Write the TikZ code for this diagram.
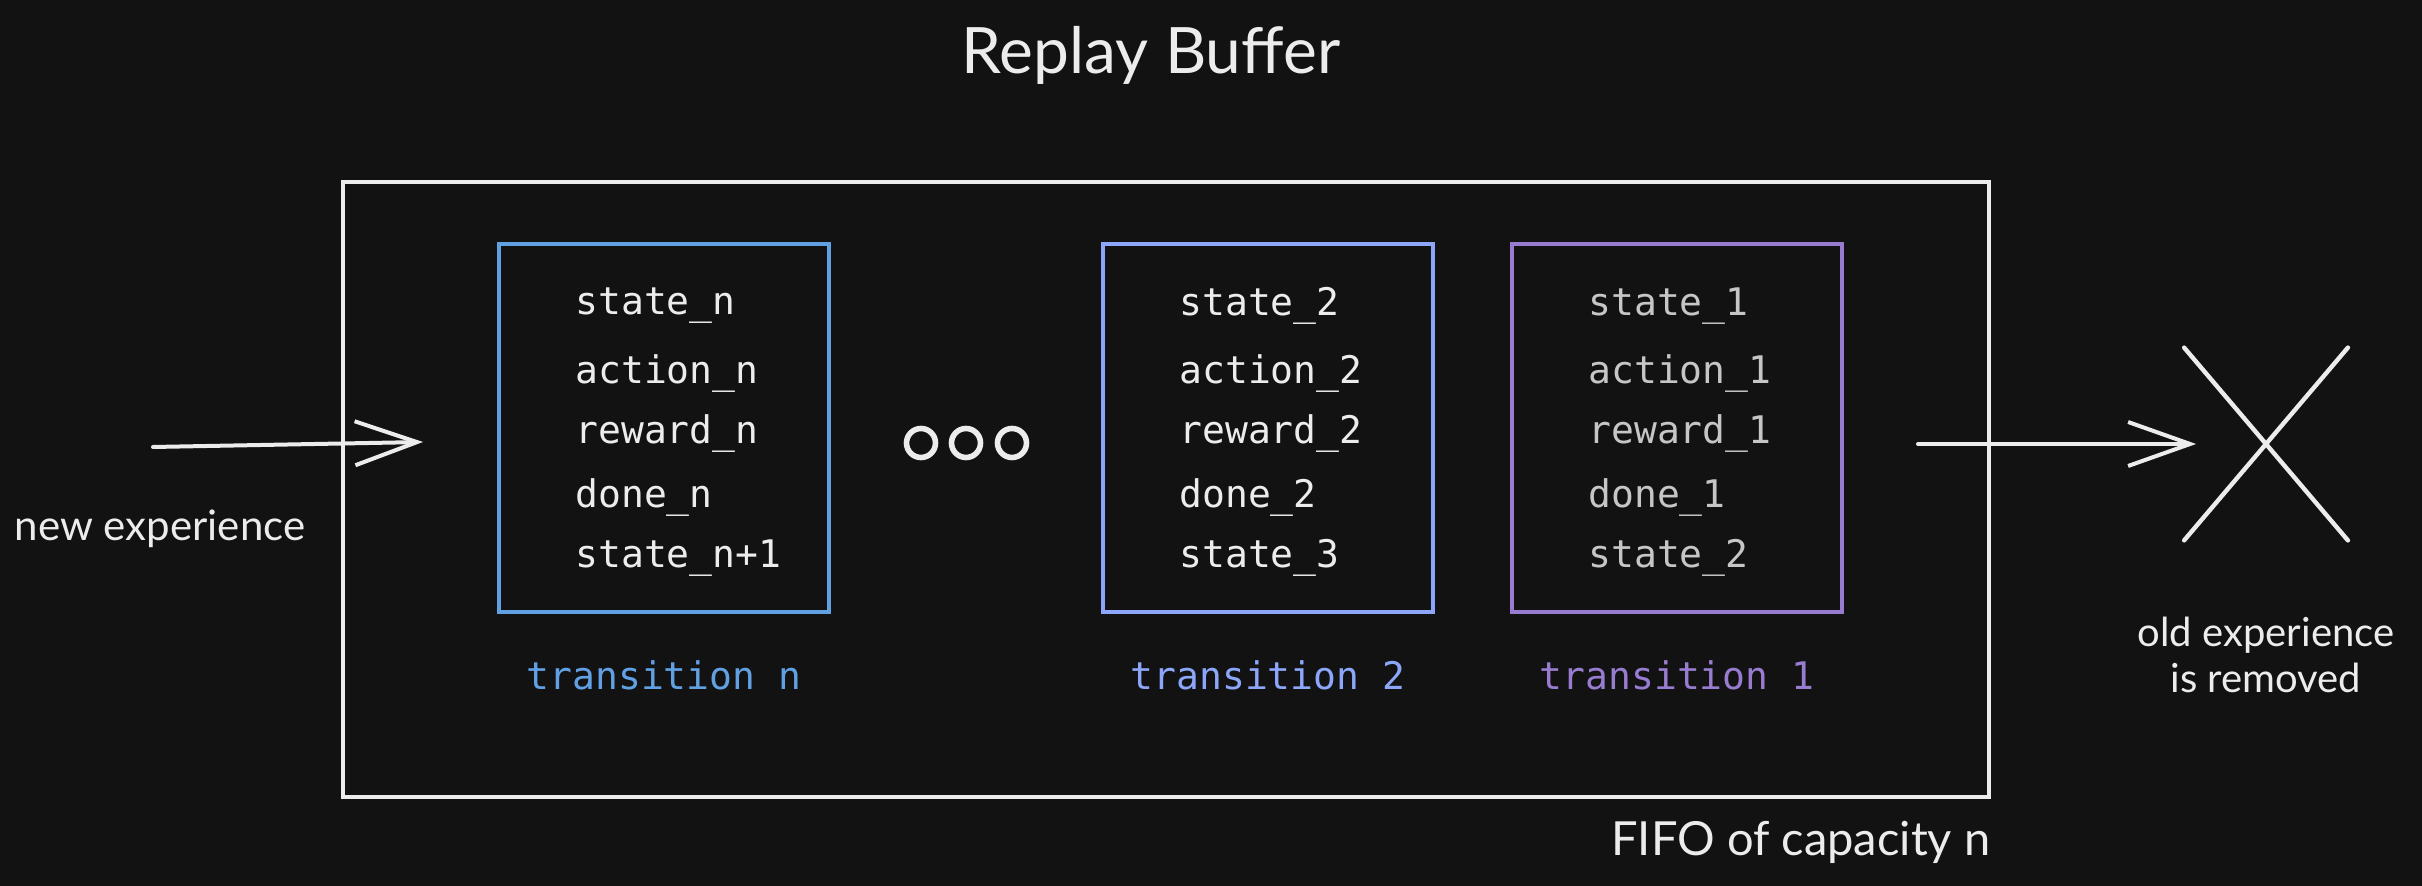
\documentclass[tikz,border=0pt]{standalone}
\usepackage{fontspec}
\newfontfamily\codefont{DejaVu Sans Mono}
\newfontfamily\handfont{Lato}
\usepackage{tikz}
\usetikzlibrary{positioning, arrows.meta}

\definecolor{bg}{HTML}{121212}
\definecolor{ink}{HTML}{ECECEC}
\definecolor{dim}{HTML}{C6C6C6}
\definecolor{trblue}{RGB}{98,160,228}
\definecolor{trperi}{RGB}{140,166,250}
\definecolor{trpurp}{RGB}{152,124,208}

\begin{document}
\begin{tikzpicture}[x=0.5pt, y=-0.5pt,
    slot/.style={draw=#1, line width=2pt, minimum width=165pt, minimum height=184pt, inner sep=0pt},
    field/.style={text=#1, anchor=west, inner sep=0pt, font=\codefont\fontsize{19}{19}\selectfont},
    tag/.style={text=#1, inner sep=0pt, font=\codefont\fontsize{19}{19}\selectfont},
    hand/.style={text=ink, inner sep=0pt, align=center, font=\handfont\fontsize{#1}{23}\selectfont},
    flow/.style={draw=ink, line width=2pt, line cap=round, -{Straight Barb[length=31pt, width=22pt]}},
  ]
    \path[use as bounding box, fill=bg] (0,0) rectangle (2422,886);

    \node[hand=32] (title) at (1151,55) {Replay Buffer};
    \node[draw=ink, line width=1.6pt, minimum width=823pt, minimum height=307.5pt] (buffer) at (1166,489.5) {};
    \node[hand=23.5, below left=11pt and 0pt of buffer.south east] (fifo) {FIFO of capacity n};

    \node[slot=trblue] (trn) at (664,428) {};
    \node[slot=trperi] (tr2) at (1268,428) {};
    \node[slot=trpurp] (tr1) at (1677,428) {};

    \foreach \tr/\k/\kk/\col in {trn/n/n+1/ink, tr2/2/3/ink, tr1/1/2/dim}
      \foreach \fld/\dy [count=\i] in {state\_\k/64, action\_\k/132, reward\_\k/192, done\_\k/256, state\_\kk/316}
        \node[field=\col] (\tr-\i) at ([shift={(78,\dy)}]\tr.north west) {\fld};

    \node[tag=trblue, below=23pt of trn] (lbln) {transition n};
    \node[tag=trperi, below=23pt of tr2] (lbl2) {transition 2};
    \node[tag=trpurp, below=23pt of tr1] (lbl1) {transition 1};

    % skipped transitions
    \foreach \x [count=\i] in {921, 966, 1012}
      \node[circle, draw=ink, line width=2.8pt, minimum size=14.5pt, inner sep=0pt] (dot\i) at (\x,443) {};

    \coordinate (newsrc) at (153,447);
    \coordinate (newdst) at (423,442);
    \draw[flow] (newsrc) -- (newdst);
    \node[hand=21] (newlbl) at (160,529) {new experience};

    \node[minimum width=81.5pt, minimum height=96pt, inner sep=0pt] (gone) at (2266,444) {};
    \draw[ink, line width=2.2pt, line cap=round] (gone.north west) -- (gone.south east)
                                                 (gone.south west) -- (gone.north east);
    \coordinate (oldsrc) at (1918,444);
    \draw[flow, shorten >=-6pt] (oldsrc) -- (gone.west);
    \node[hand=20, below=38pt of gone] (oldlbl) {old experience\\is removed};
\end{tikzpicture}
\end{document}
